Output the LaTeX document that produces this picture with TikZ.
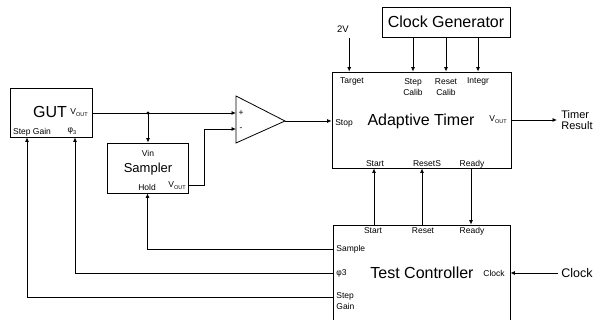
\documentclass[tikz,border=0pt]{standalone}
\usepackage{fontspec}
\setmainfont{Liberation Sans}
\usetikzlibrary{arrows.meta}
\newcommand{\vout}{V\raisebox{-.45ex}{\fontsize{5.5}{6}\selectfont OUT}}
\newcommand{\fs}[1]{\fontsize{#1}{#1}\selectfont}

\begin{document}
\begin{tikzpicture}[x=1pt,y=-1pt,line width=.8pt,>={Latex[length=4.5pt,width=4pt]},
  box/.style={draw,inner sep=0},
  lbl/.style={font=\fs{8.5},inner sep=0},
  big/.style={font=\fs{16},inner sep=0}]
 \useasboundingbox (0,0) rectangle (595,320);
 \clip (0,0) rectangle (595,320);
 % blocks
 \node[box,minimum width=82pt,minimum height=49pt] (gut) at (51,112.5) {};
 \node[big] at (50,112) {GUT};
 \node[lbl] (gvo) at (79,113) {\vout};
 \node[lbl] (gsg) at (32,132) {Step Gain};
 \node[lbl] (gphi) at (72,131) {φ\raisebox{-.4ex}{\fs{5.5}3}};
 \node[box,minimum width=81pt,minimum height=50pt] (smp) at (147.5,168) {};
 \node[lbl] (svin) at (148,153) {Vin};
 \node[font=\fs{13},inner sep=0] at (148,169) {Sampler};
 \node[lbl] (shold) at (147,187) {Hold};
 \node[lbl] (svo) at (177,186) {\vout};
 \coordinate (ampP) at (236,113);
 \coordinate (ampM) at (236,129);
 \coordinate (ampO) at (285,121);
 \draw (236,96) -- (ampO) -- (236,143) -- cycle;
 \node[lbl] at (241,113) {+};
 \node[lbl] at (241,129) {-};
 \node[box,minimum width=179pt,minimum height=96pt] (at) at (421.5,120) {};
 \node[big] at (421,121) {Adaptive Timer};
 \node[lbl] at (352,81) {Target};
 \node[lbl,align=center] at (413,87) {Step\\[3pt]Calib};
 \node[lbl,align=center] at (446,87) {Reset\\[3pt]Calib};
 \node[lbl] at (478,81) {Integr};
 \node[lbl] at (344,123) {Stop};
 \node[lbl] at (498,120) {\vout};
 \node[lbl] at (375,164) {Start};
 \node[lbl] at (427,164) {ResetS};
 \node[lbl] at (472,164) {Ready};
 \node[box,minimum width=128pt,minimum height=30pt,font=\fs{16}] (cg) at (446,22) {Clock Generator};
 \node[font=\fs{9.5},inner sep=0] (vtwo) at (343,29) {2V};
 \node[box,minimum width=177pt,minimum height=110pt] (tc) at (421.5,280) {};
 \node[big] at (422,273) {Test Controller};
 \node[lbl] at (373,231) {Start};
 \node[lbl] at (423,231) {Reset};
 \node[lbl] at (472,231) {Ready};
 \node[lbl,anchor=west] (tsmp) at (336,249) {Sample};
 \node[lbl,anchor=west] (tphi) at (336,273) {φ3};
 \node[lbl,anchor=west,align=left] (tsg) at (336,301) {Step\\[3pt]Gain};
 \node[lbl] (tclk) at (494,273) {Clock};
 \node[font=\fs{12.5},anchor=west,inner sep=3pt] (clk) at (558,273) {Clock};
 \node[font=\fs{11},anchor=west,align=left,inner sep=4pt] (res) at (557,120) {Timer\\Result};
 % signals
 \coordinate (split) at (148,113);
 \draw[->] (gut.east |- ampP) -- (ampP);
 \fill (split) circle (1.6pt);
 \draw[->] (split) -- (split |- smp.north);
 \draw[->] ([yshift=-17pt]smp.east) -- ++(16,0) |- (ampM);
 \draw[->] (ampO) -- (ampO -| at.west);
 \draw[->] (at.east) -- (res.west);
 \draw[->] ([yshift=-5pt]vtwo.south east) -- (vtwo.south east |- at.north);
 \foreach \x in {413,446,478}
  \draw[->] (cg.south -| \x,0) -- (at.north -| \x,0);
 \draw[->] (tc.north -| 374,0) -- (at.south -| 374,0);
 \draw[->] (tc.north -| 422,0) -- (at.south -| 422,0);
 \draw[->] (at.south -| 471,0) -- (tc.north -| 471,0);
 \draw[->] (tc.west |- 0,249) -| (smp.south);
 \draw[->] (tc.west |- 0,273) -| (gut.south -| 75,0);
 \draw[->] (tc.west |- 0,297) -| (gut.south -| 27,0);
 \draw[->] (clk.west) -- (clk.west -| tc.east);
\end{tikzpicture}
\end{document}
